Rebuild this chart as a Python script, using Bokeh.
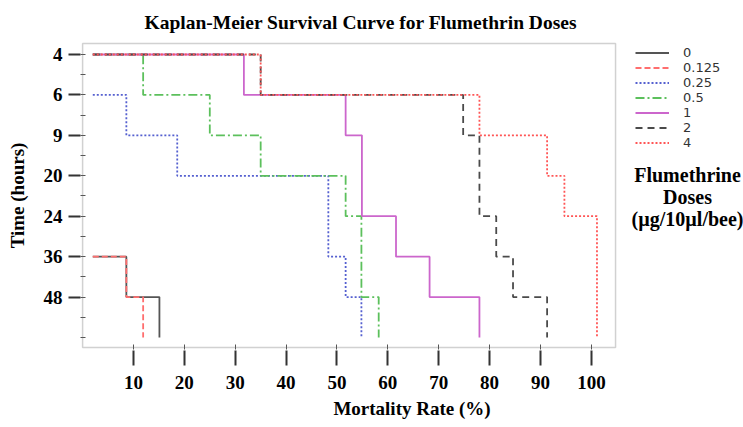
from bokeh.plotting import figure
from bokeh.models import Range1d, FixedTicker, Label, BoxAnnotation
from bokeh.embed import file_html
from bokeh.resources import INLINE

# ---- data ----
time_labels = ["4", "6", "9", "20", "24", "36", "48"]
x_ticks = [10, 20, 30, 40, 50, 60, 70, 80, 90, 100]

dose_names = ["0", "0.125", "0.25", "0.5", "1", "2", "4"]
# mortality (%) at start and at each drop, and the time level held before each drop
dose_0_x = [2, 8.6, 15.1]
dose_0_t = ["36", "48"]
dose_0125_x = [2, 8.6, 11.9]
dose_0125_t = ["36", "48"]
dose_025_x = [2, 8.6, 18.6, 48.3, 51.7, 54.8]
dose_025_t = ["6", "9", "20", "36", "48"]
dose_05_x = [2, 11.9, 25.0, 35.0, 51.7, 54.8, 58.2]
dose_05_t = ["4", "6", "9", "20", "24", "48"]
dose_1_x = [2, 31.7, 51.7, 54.9, 61.6, 68.2, 78.0]
dose_1_t = ["4", "6", "9", "24", "36", "48"]
dose_2_x = [2, 35.0, 74.8, 78.0, 81.3, 84.6, 91.3]
dose_2_t = ["4", "6", "9", "24", "36", "48"]
dose_4_x = [2, 35.0, 78.0, 91.3, 94.7, 101.1]
dose_4_t = ["4", "6", "9", "20", "24"]

series_x = [dose_0_x, dose_0125_x, dose_025_x, dose_05_x, dose_1_x, dose_2_x, dose_4_x]
series_t = [dose_0_t, dose_0125_t, dose_025_t, dose_05_t, dose_1_t, dose_2_t, dose_4_t]

colors = ["#555555", "#ff6e6e", "#5560d0", "#5cc05c", "#cc66cc", "#4a4a4a", "#ff5555"]
dashes = ["solid", "6 3", "2 2", "9 3 2 3", "solid", "7 5", "2 2"]

END_LEVEL = len(time_labels)
level = {t: i for i, t in enumerate(time_labels)}

# plotting box (in data units) and the wider frame that also holds the legend
BOX_X = (0, 104.75)
BOX_Y = (7.247, -0.272)

p = figure(width=743, height=427, output_backend="svg", toolbar_location=None,
           x_range=Range1d(-0.413, 129.9), y_range=Range1d(7.297, -0.3215),
           min_border_left=80, min_border_right=0, min_border_top=41, min_border_bottom=78)

p.xgrid.visible = False
p.ygrid.visible = False
p.outline_line_color = None
p.background_fill_color = "white"
p.border_fill_color = "white"

p.add_layout(BoxAnnotation(left=BOX_X[0], right=BOX_X[1], bottom=BOX_Y[0], top=BOX_Y[1],
                           fill_alpha=0, line_color="#666666", line_width=1.5))

for name, xs, ts, c, d in zip(dose_names, series_x, series_t, colors, dashes):
    ys = [level[t] for t in ts] + [END_LEVEL]
    p.step(x=xs, y=ys, mode="after", line_color=c, line_width=1.8, line_dash=d,
           legend_label=name)

serif = "Liberation Serif"
for ax in (p.xaxis[0], p.yaxis[0]):
    ax.axis_line_color = None
    ax.major_tick_line_color = "#333333"
    ax.major_tick_line_width = 2
    ax.minor_tick_line_color = "#555555"
    ax.minor_tick_line_width = 1
    ax.minor_tick_in = 5
    ax.minor_tick_out = 0
    ax.major_label_text_font = serif
    ax.major_label_text_font_style = "bold"
    ax.major_label_text_font_size = "19px"
    ax.major_label_text_color = "black"
    ax.axis_label_text_font = serif
    ax.axis_label_text_font_style = "bold"
    ax.axis_label_text_font_size = "19px"
    ax.axis_label_text_color = "black"

xa = p.xaxis[0]
xa.ticker = FixedTicker(ticks=x_ticks, minor_ticks=x_ticks)
xa.bounds = (0, 108.3)
xa.major_tick_in = -1
xa.major_tick_out = 16
xa.major_label_standoff = 10
xa.axis_label = "Mortality Rate (%)"
xa.axis_label_standoff = 6

ya = p.yaxis[0]
ya.ticker = FixedTicker(ticks=list(range(len(time_labels))),
                        minor_ticks=[i * 0.5 for i in range(2 * END_LEVEL + 1)])
ya.major_label_overrides = {i: t for i, t in enumerate(time_labels)}
ya.major_tick_in = 0
ya.major_tick_out = 12
ya.major_label_standoff = 6
ya.axis_label = "Time (hours)"
ya.axis_label_standoff = 13

p.title.text = "Kaplan-Meier Survival Curve for Flumethrin Doses"
p.title.align = "left"
p.title.offset = 64
p.title.text_font = serif
p.title.text_font_style = "bold"
p.title.text_font_size = "19.5px"
p.title.text_color = "black"
p.title.standoff = 18

lg = p.legend[0]
lg.location = (555, 199)
lg.margin = 0
lg.padding = 0
lg.spacing = 0
lg.border_line_color = None
lg.background_fill_alpha = 0
lg.glyph_width = 34
lg.glyph_height = 15
lg.label_height = 15
lg.label_standoff = 14
lg.label_text_font = "DejaVu Sans"
lg.label_text_font_size = "13px"
lg.label_text_color = "#333333"

# legend caption
for txt, yy in [("Flumethrine", 2.993), ("Doses", 3.537), ("(µg/10µl/bee)", 4.057)]:
    p.add_layout(Label(x=118.9, y=yy, text=txt, text_font=serif, text_font_style="bold",
                       text_font_size="20px", text_align="center", text_baseline="middle",
                       text_color="black"))

open("out.html", "w").write(file_html(p, INLINE))
